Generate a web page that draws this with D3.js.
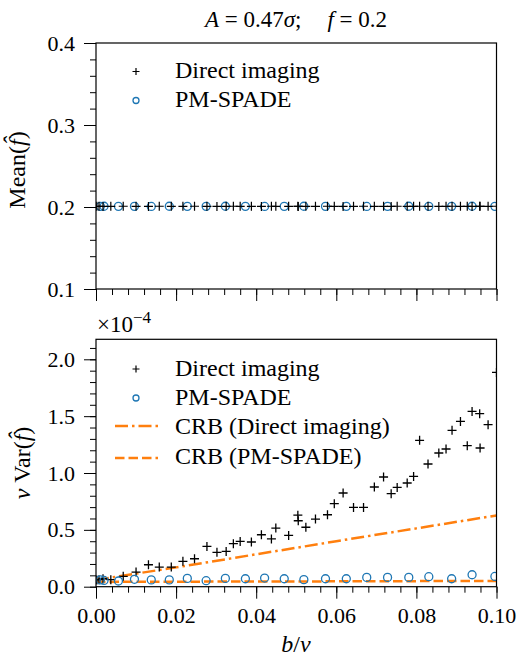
<!DOCTYPE html>
<html>
<head>
<meta charset="utf-8">
<script src="https://cdn.jsdelivr.net/npm/d3@7"></script>
<style>
body { margin: 0; background: #fff; }
text { font-family: "Liberation Serif", serif; }
</style>
</head>
<body>
<div id="canvas"></div>
<script>
"use strict"

// b/nu for the direct imaging runs
let directX = [0.0002, 0.00075, 0.00175, 0.0037, 0.0068, 0.0100, 0.0131, 0.0158, 0.0188, 0.0217,
    0.0246, 0.0277, 0.0302, 0.0325, 0.0343, 0.0360, 0.0388, 0.0413, 0.0438, 0.0449,
    0.0481, 0.0504, 0.0505, 0.0524, 0.0548, 0.0578, 0.0595, 0.0617, 0.0643, 0.0668,
    0.0695, 0.0718, 0.0737, 0.0752, 0.0777, 0.0793, 0.0808, 0.0829, 0.0856, 0.0874,
    0.0889, 0.0910, 0.0927, 0.0939, 0.0958, 0.0959, 0.0979, 0.1000];
let directMean = [0.2008, 0.2009, 0.2007, 0.2008, 0.2009, 0.2008, 0.2007, 0.2009, 0.2008, 0.2008,
    0.2009, 0.2008, 0.2007, 0.2008, 0.2009, 0.2008, 0.2008, 0.2007, 0.2009, 0.2008,
    0.2008, 0.2009, 0.2007, 0.2008, 0.2008, 0.2009, 0.2008, 0.2007, 0.2008, 0.2009,
    0.2008, 0.2008, 0.2007, 0.2009, 0.2008, 0.2008, 0.2009, 0.2008, 0.2007, 0.2008,
    0.2009, 0.2008, 0.2008, 0.2007, 0.2009, 0.2008, 0.2008, 0.2009];
// nu Var, in units of 1e-4
let directVar = [0.060, 0.062, 0.070, 0.062, 0.091, 0.129, 0.193, 0.173, 0.173, 0.223,
    0.246, 0.354, 0.302, 0.310, 0.378, 0.398, 0.393, 0.457, 0.420, 0.516,
    0.451, 0.629, 0.580, 0.523, 0.595, 0.633, 0.730, 0.824, 0.697, 0.697,
    0.877, 0.965, 0.818, 0.873, 0.912, 0.970, 1.287, 1.079, 1.176, 1.211,
    1.375, 1.454, 1.240, 1.542, 1.522, 1.220, 1.425, 1.885];

let spadeX = [0.0011, 0.0020, 0.0056, 0.0096, 0.0138, 0.0183, 0.0228, 0.0275, 0.0323, 0.0373, 0.0421,
    0.0470, 0.0519, 0.0573, 0.0625, 0.0676, 0.0728, 0.0781, 0.0831, 0.0888, 0.0939, 0.0996];
let spadeMean = [0.2008, 0.2009, 0.2008, 0.2008, 0.2007, 0.2009, 0.2008, 0.2008, 0.2009, 0.2008, 0.2007,
    0.2008, 0.2009, 0.2008, 0.2008, 0.2007, 0.2008, 0.2009, 0.2008, 0.2008, 0.2009, 0.2008];
let spadeVar = [0.060, 0.055, 0.050, 0.065, 0.060, 0.060, 0.073, 0.053, 0.073, 0.070, 0.076,
    0.070, 0.062, 0.070, 0.070, 0.082, 0.082, 0.082, 0.088, 0.070, 0.105, 0.090];

let crbX = [0, 0.02, 0.04, 0.06, 0.08, 0.10];
let crbDirect = [0.060, 0.170, 0.285, 0.400, 0.513, 0.627];
let crbSpade = [0.042, 0.044, 0.046, 0.047, 0.049, 0.050];

let xTicks = [0, 0.02, 0.04, 0.06, 0.08, 0.10];
let meanTicks = [0.1, 0.2, 0.3, 0.4];
let varTicks = [0, 0.5, 1.0, 1.5, 2.0];

let orange = "#ff7f0e";
let blue = "#1f77b4";
let fontSize = 22;
let labelSize = 24;

let drawing = d3.select("#canvas")
    .append("svg")
    .attr("width", 517)
    .attr("height", 658);

let x = d3.scaleLinear().domain([0, 0.1]).range([96, 496.5]);
let yTop = d3.scaleLinear().domain([0.1, 0.4]).range([289, 43]);
let yBot = d3.scaleLinear().domain([0, 2.176]).range([586.7, 339.3]);

function styleAxis(g) {
    g.select(".domain").remove();
    g.selectAll("line").attr("stroke", "#000").attr("stroke-width", 1);
    g.selectAll("text").attr("font-size", fontSize).attr("fill", "#000")
        .attr("font-family", "Liberation Serif, serif");
}

function panel(yScale, yTicks, yMinorStep, showXLabels, fmtY) {
    let y0 = yScale.range()[0];
    let d = yScale.domain();
    // minor ticks
    drawing.append("g").attr("transform", "translate(0," + y0 + ")")
        .call(d3.axisBottom(x).tickValues(d3.range(0, 0.1001, 0.004)).tickSize(6).tickFormat(""))
        .call(styleAxis);
    drawing.append("g").attr("transform", "translate(" + x.range()[0] + ",0)")
        .call(d3.axisLeft(yScale).tickValues(d3.range(d[0], d[1] + 1e-9, yMinorStep)).tickSize(6).tickFormat(""))
        .call(styleAxis);
    // major ticks
    drawing.append("g").attr("transform", "translate(0," + y0 + ")")
        .call(d3.axisBottom(x).tickValues(xTicks).tickSize(12).tickPadding(9)
            .tickFormat(showXLabels ? d3.format(".2f") : ""))
        .call(styleAxis);
    drawing.append("g").attr("transform", "translate(" + x.range()[0] + ",0)")
        .call(d3.axisLeft(yScale).tickValues(yTicks).tickSize(12).tickPadding(9).tickFormat(fmtY))
        .call(styleAxis);
}

panel(yTop, meanTicks, 0.02, false, d3.format(".1f"));
panel(yBot, varTicks, 0.1, true, d3.format(".1f"));

// clip paths for the plotting areas
let defs = drawing.append("defs");
function clip(id, yScale) {
    defs.append("clipPath").attr("id", id).append("rect")
        .attr("x", x.range()[0]).attr("y", yScale.range()[1])
        .attr("width", x.range()[1] - x.range()[0])
        .attr("height", yScale.range()[0] - yScale.range()[1]);
}
clip("clipTop", yTop);
clip("clipBot", yBot);

let plus = "M-4.5,0H4.5M0,-4.5V4.5";

// top panel points
let gTop = drawing.append("g").attr("clip-path", "url(#clipTop)");
gTop.selectAll(".sp").data(spadeX).enter().append("circle")
    .attr("cx", (d) => x(d))
    .attr("cy", (d, i) => yTop(spadeMean[i]))
    .attr("r", 4)
    .attr("fill", "none")
    .attr("stroke", blue)
    .attr("stroke-width", 1.3);
gTop.selectAll(".di").data(directX).enter().append("path")
    .attr("d", plus)
    .attr("transform", (d, i) => "translate(" + x(d) + "," + yTop(directMean[i]) + ")")
    .attr("stroke", "#000")
    .attr("stroke-width", 1.2);

// bottom panel
let gBot = drawing.append("g").attr("clip-path", "url(#clipBot)");
let line = d3.line().x((d) => x(d[0])).y((d) => yBot(d[1]));
gBot.append("path")
    .attr("d", line(crbX.map((d, i) => [d, crbDirect[i]])))
    .attr("fill", "none")
    .attr("stroke", orange)
    .attr("stroke-width", 2.5)
    .attr("stroke-dasharray", "13,4,2.5,4");
gBot.append("path")
    .attr("d", line(crbX.map((d, i) => [d, crbSpade[i]])))
    .attr("fill", "none")
    .attr("stroke", orange)
    .attr("stroke-width", 2.5)
    .attr("stroke-dasharray", "9.5,4");
gBot.selectAll(".di").data(directX).enter().append("path")
    .attr("d", plus)
    .attr("transform", (d, i) => "translate(" + x(d) + "," + yBot(directVar[i]) + ")")
    .attr("stroke", "#000")
    .attr("stroke-width", 1.3);
gBot.selectAll(".sp").data(spadeX).enter().append("circle")
    .attr("cx", (d) => x(d))
    .attr("cy", (d, i) => yBot(spadeVar[i]))
    .attr("r", 4)
    .attr("fill", "none")
    .attr("stroke", blue)
    .attr("stroke-width", 1.3);

// frames
function frame(yScale) {
    drawing.append("rect")
        .attr("x", x.range()[0]).attr("y", yScale.range()[1])
        .attr("width", x.range()[1] - x.range()[0])
        .attr("height", yScale.range()[0] - yScale.range()[1])
        .attr("fill", "none")
        .attr("stroke", "#000")
        .attr("stroke-width", 1.2);
}
frame(yTop);
frame(yBot);

// legends
function legendText(y, label) {
    drawing.append("text")
        .attr("x", 175).attr("y", y)
        .attr("font-size", labelSize)
        .text(label);
}
drawing.append("path").attr("d", "M-3.5,0H3.5M0,-3.5V3.5")
    .attr("transform", "translate(136,71.5)")
    .attr("stroke", "#000").attr("stroke-width", 1.2);
legendText(78, "Direct imaging");
drawing.append("circle").attr("cx", 136).attr("cy", 100.5).attr("r", 3)
    .attr("fill", "none").attr("stroke", blue).attr("stroke-width", 1.3);
legendText(107, "PM-SPADE");

drawing.append("path").attr("d", "M-3.5,0H3.5M0,-3.5V3.5")
    .attr("transform", "translate(136,369)")
    .attr("stroke", "#000").attr("stroke-width", 1.2);
legendText(376, "Direct imaging");
drawing.append("circle").attr("cx", 136).attr("cy", 398).attr("r", 3)
    .attr("fill", "none").attr("stroke", blue).attr("stroke-width", 1.3);
legendText(405, "PM-SPADE");
drawing.append("line").attr("x1", 115).attr("x2", 158).attr("y1", 426).attr("y2", 426)
    .attr("stroke", orange).attr("stroke-width", 2.5).attr("stroke-dasharray", "13,4,2.5,4");
legendText(434, "CRB (Direct imaging)");
drawing.append("line").attr("x1", 115).attr("x2", 158).attr("y1", 458).attr("y2", 458)
    .attr("stroke", orange).attr("stroke-width", 2.5).attr("stroke-dasharray", "9.5,4");
legendText(464, "CRB (PM-SPADE)");

// title
let title = drawing.append("text")
    .attr("x", 296).attr("y", 27)
    .attr("text-anchor", "middle")
    .attr("font-size", 23);
title.append("tspan").attr("font-style", "italic").text("A");
title.append("tspan").text(" = 0.47");
title.append("tspan").attr("font-style", "italic").text("σ");
title.append("tspan").text(";");
title.append("tspan").attr("dx", 26).attr("font-style", "italic").text("f");
title.append("tspan").text(" = 0.2");

// offset label
let offset = drawing.append("text")
    .attr("x", 97).attr("y", 332)
    .attr("font-size", 23);
offset.append("tspan").text("×10");
offset.append("tspan").attr("dy", -9).attr("font-size", 17).text("−4");

// axis labels
let xl = drawing.append("text")
    .attr("x", 296).attr("y", 652)
    .attr("text-anchor", "middle")
    .attr("font-size", labelSize);
xl.append("tspan").attr("font-style", "italic").text("b");
xl.append("tspan").text("/");
xl.append("tspan").attr("font-style", "italic").text("ν");

let yl1 = drawing.append("text")
    .attr("transform", "translate(25,170) rotate(-90)")
    .attr("text-anchor", "middle")
    .attr("font-size", labelSize);
yl1.append("tspan").text("Mean(");
yl1.append("tspan").attr("font-style", "italic").text("f\u0302");
yl1.append("tspan").text(")");

let yl2 = drawing.append("text")
    .attr("transform", "translate(30,463) rotate(-90)")
    .attr("text-anchor", "middle")
    .attr("font-size", labelSize);
yl2.append("tspan").attr("font-style", "italic").text("ν");
yl2.append("tspan").text(" Var(");
yl2.append("tspan").attr("font-style", "italic").text("f\u0302");
yl2.append("tspan").text(")");
</script>
</body>
</html>
